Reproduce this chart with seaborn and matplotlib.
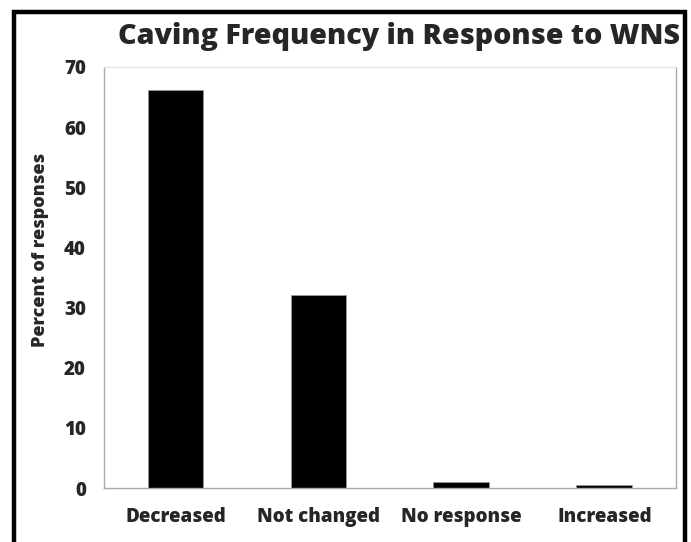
import matplotlib
matplotlib.use("Agg")
import matplotlib.pyplot as plt
import seaborn as sns
import pandas as pd
from matplotlib.patches import Rectangle

# data
categories = ["Decreased", "Not changed", "No response", "Increased"]
percents = [66.2, 32.1, 1.0, 0.5]
yticks = [0, 10, 20, 30, 40, 50, 60, 70]

df = pd.DataFrame({"category": categories, "percent": percents})

sns.set_style("white")
plt.rcParams["font.family"] = ["Open Sans", "DejaVu Sans"]

fig = plt.figure(figsize=(6.91, 5.42), dpi=100)
ax = fig.add_axes([0.1505, 0.0996, 0.8275, 0.7768])

sns.barplot(data=df, x="category", y="percent", color="black", width=0.39,
            edgecolor="#999999", linewidth=0.6, saturation=1, ax=ax)

ax.set_ylim(0, 70)
ax.set_xlim(-0.5, len(categories) - 0.5)
ax.set_yticks(yticks)
ax.set_yticklabels([str(t) for t in yticks], fontsize=13.5, fontweight="heavy")
ax.set_xticks(range(len(categories)))
ax.set_xticklabels(categories, fontsize=13.5, fontweight="heavy")
ax.set_xticks([i - 0.5 for i in range(len(categories) + 1)], minor=True)
ax.tick_params(axis="x", which="major", length=0, pad=14)
ax.tick_params(axis="x", which="minor", length=5, color="#999999", direction="out")
ax.tick_params(axis="y", length=5, color="#999999", direction="out", pad=8)
ax.set_xlabel("")
ax.set_ylabel("Percent of responses", fontsize=13, fontweight="heavy")
ax.yaxis.set_label_coords(-0.097, 0.565)

for side in ["left", "bottom", "right"]:
    ax.spines[side].set_color("#aaaaaa")
    ax.spines[side].set_linewidth(1)
ax.spines["top"].set_color("#e6e6e6")
ax.spines["top"].set_linewidth(1)

fig.text(0.984, 0.932, "Caving Frequency in Response to WNS", ha="right", va="center",
         fontsize=20.6, fontweight="heavy")

# thick frame around the figure
fig.patches.append(Rectangle((14 / 691, -0.05), (685 - 14) / 691, (542 - 12) / 542 + 0.05,
                             transform=fig.transFigure, fill=False, edgecolor="black",
                             linewidth=3.2, clip_on=False))

fig.savefig("out.png", dpi=100)
